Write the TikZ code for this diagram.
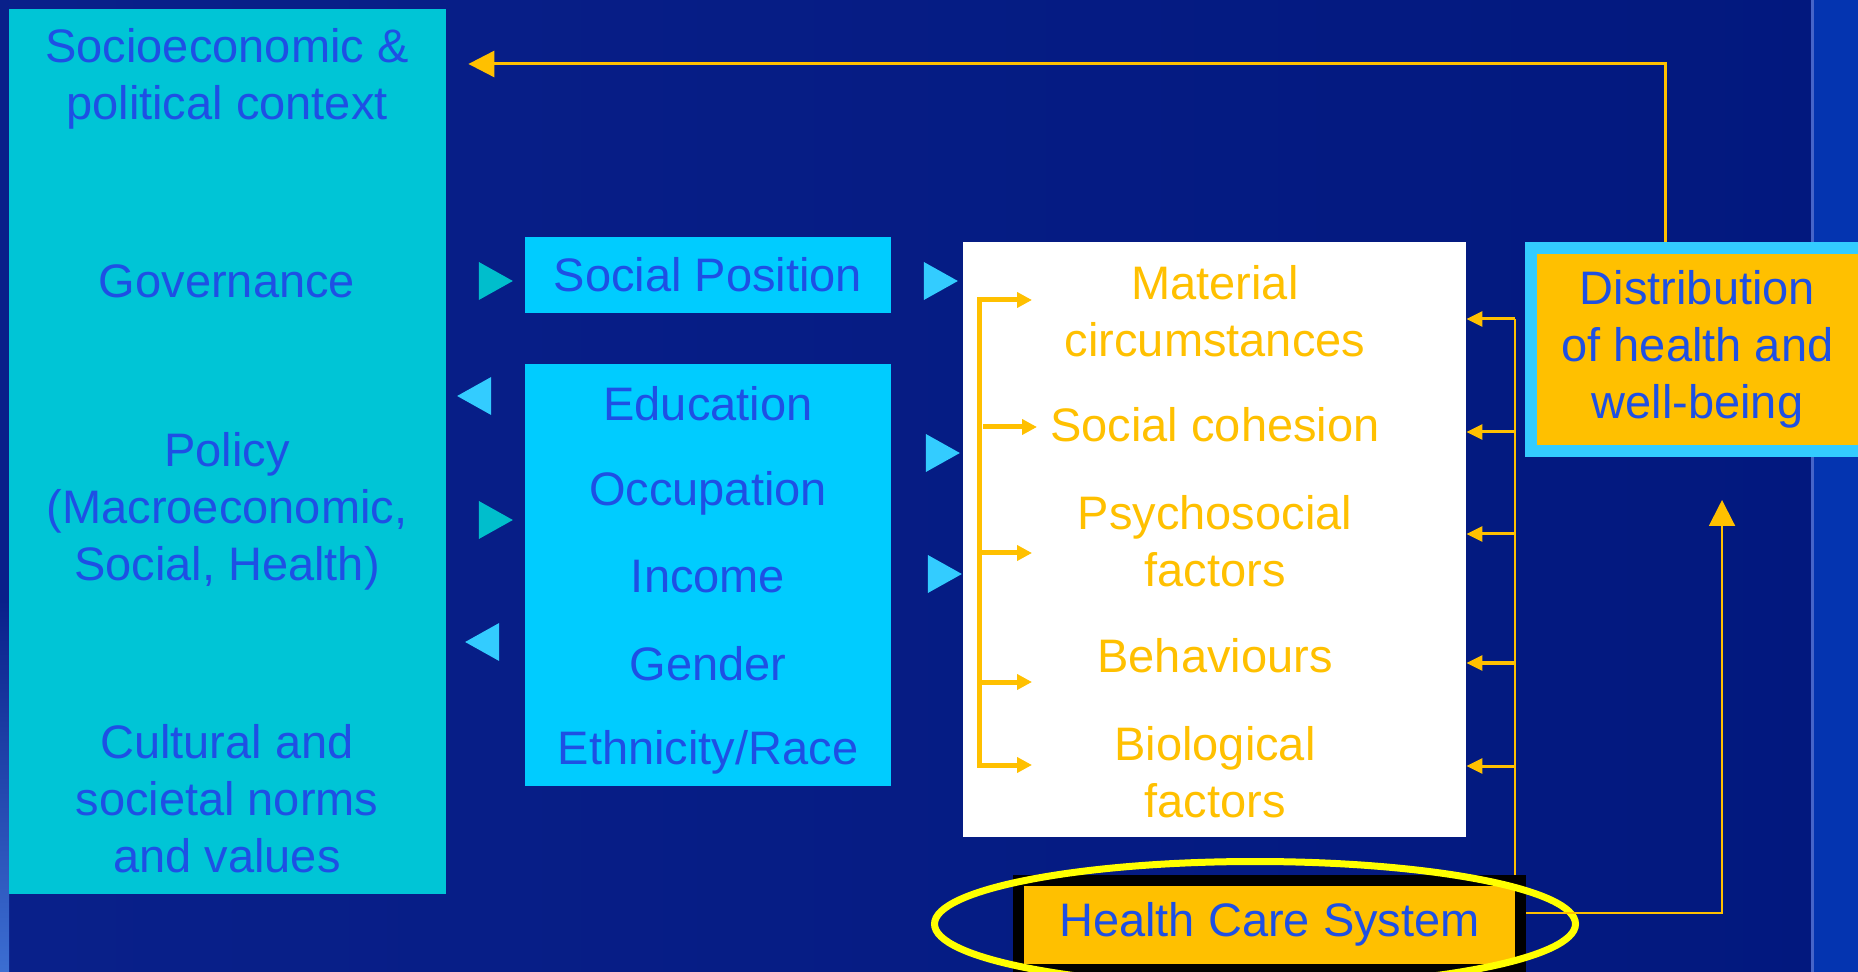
\documentclass[tikz,border=0pt]{standalone}
\usepackage{fontspec}
\setmainfont{Liberation Sans}
\usepackage{xcolor}
\usepackage{tikz}
\usetikzlibrary{arrows.meta,positioning,calc,shapes.geometric}

\definecolor{navyL}{RGB}{9,32,138}
\definecolor{navyR}{RGB}{2,24,126}
\definecolor{stripblue}{RGB}{4,52,176}
\definecolor{stripline}{RGB}{70,100,200}
\definecolor{edgeblue}{RGB}{60,110,210}
\definecolor{ctxteal}{RGB}{0,197,214}
\definecolor{boxcyan}{RGB}{0,204,255}
\definecolor{tricyan}{RGB}{51,204,255}
\definecolor{triteal}{RGB}{0,190,204}
\definecolor{txtblue}{RGB}{30,80,228}
\definecolor{gold}{RGB}{255,192,0}
\definecolor{ringyellow}{RGB}{255,255,0}

\begin{document}
\begin{tikzpicture}[x=0.5pt,y=-0.5pt,>={Triangle[length=7.5pt,width=7.5pt]},
	every node/.style={font=\fontsize{23.5}{28.5}\selectfont,align=center}]
	\tikzstyle{box}=[rectangle,inner sep=0pt]
	\tikzstyle{lbl}=[text=txtblue]
	\tikzstyle{fac}=[text=gold]
	\tikzstyle{tri}=[isosceles triangle,isosceles triangle stretches,inner sep=0pt,
		minimum width=19pt,minimum height=17pt]
	\tikzstyle{bracket}=[gold,line width=2.5pt]
	\tikzstyle{care}=[gold,line width=1.5pt,-{Triangle[length=8pt,width=7.5pt]}]
	\tikzstyle{loop}=[gold,-{Triangle[length=13pt,width=13pt]}]
	
	% background
	\useasboundingbox (0,0) rectangle (1858,972);
	\clip (0,0) rectangle (1858,972);
	\fill[left color=navyL,right color=navyR] (0,0) rectangle (1858,972);
	\fill[stripblue] (1813,0) rectangle (1858,972);
	\draw[stripline,line width=1.5pt] (1812,0) -- (1812,972);
	\shade[top color=navyL,bottom color=edgeblue] (0,600) rectangle (9,972);
	
	% context column
	\node[box,fill=ctxteal,minimum width=218.5pt,minimum height=442.5pt] (ctx) at (227.5,451.5) {};
	\node[lbl] (ctxhead) at (227,79) {Socioeconomic \&\\political context};
	\node[lbl] (gov) at (227,281) {Governance};
	\node[lbl] (pol) at (227,511) {Policy\\(Macroeconomic,\\Social, Health)};
	\node[lbl] (cult) at (227,799) {Cultural and\\societal norms\\and values};
	
	% social position
	\node[box,lbl,fill=boxcyan,minimum width=183pt,minimum height=38pt] (socpos) at (708,275) {Social Position};
	\node[box,fill=boxcyan,minimum width=183pt,minimum height=211pt] (strat) at (708,575) {};
	\node[lbl] (edu) at (708,404) {Education};
	\node[lbl] (occ) at (708,493) {Occupation};
	\node[lbl] (inc) at (708,577) {Income};
	\node[lbl] (gen) at (708,664) {Gender};
	\node[lbl] (eth) at (708,752) {Ethnicity/Race};
	
	% intermediary factors
	\node[box,fill=white,minimum width=251.5pt,minimum height=297.5pt] (inter) at (1214.5,539.5) {};
	\node[fac] (mat) at (1215,311) {Material\\circumstances};
	\node[fac] (coh) at (1215,425) {Social cohesion};
	\node[fac] (psy) at (1215,541) {Psychosocial\\factors};
	\node[fac] (beh) at (1215,656) {Behaviours};
	\node[fac] (bio) at (1215,772) {Biological\\factors};
	
	% outcome and health system
	\node[box,lbl,fill=gold,draw=tricyan,line width=6pt,minimum width=166.5pt,minimum height=101.5pt] (dist) at (1697.5,349.5) {Distribution\\of health and\\well-being};
	\node[box,lbl,fill=gold,draw=black,line width=5.5pt,minimum width=251pt,minimum height=44.5pt] (hcs) at (1269.5,924.5) {Health Care System};
	\node[ellipse,draw=ringyellow,line width=3.5pt,minimum width=320.5pt,minimum height=62.5pt] (ring) at (1255,924) {};
	
	% triangles between the columns
	\node[tri,fill=triteal] (t1) at (490,281) {};
	\node[tri,fill=tricyan] (t2) at (935,281) {};
	\node[tri,fill=tricyan,shape border rotate=180] (t3) at (480,396) {};
	\node[tri,fill=triteal] (t4) at (490,520) {};
	\node[tri,fill=tricyan,shape border rotate=180] (t5) at (488,642) {};
	\node[tri,fill=tricyan] (t6) at (937,453) {};
	\node[tri,fill=tricyan] (t7) at (939,574) {};
	
	% connectors
	\coordinate (fb) at (1665,64);
	\coordinate (up) at (1722,500);
	\coordinate (cx) at (1515,319);
	\coordinate (brtop) at (979,300);
	\coordinate (brbot) at (979,765);
	\coordinate (tipx) at (1032,0);
	
	\draw[loop,line width=1.5pt,shorten >=11pt] (dist.north -| fb) |- (ctx.east |- fb);
	\draw[loop,line width=1pt] ([yshift=6pt]hcs.east) -| (up);
	\draw[gold,line width=1pt] (hcs.north -| cx) -- (cx);
	\foreach \y in {319,432,534,663,766}
		\draw[care] (cx |- 0,\y) -- (inter.east |- 0,\y);
	\draw[bracket,<->] (brtop -| tipx) -- (brtop) -- (brbot) -- (brbot -| tipx);
	\foreach \y in {553,682}
		\draw[bracket,->] (brtop |- 0,\y) -- (tipx |- 0,\y);
	\draw[bracket,->] (983,427) -- (1037,427);
	
\end{tikzpicture}
\end{document}
